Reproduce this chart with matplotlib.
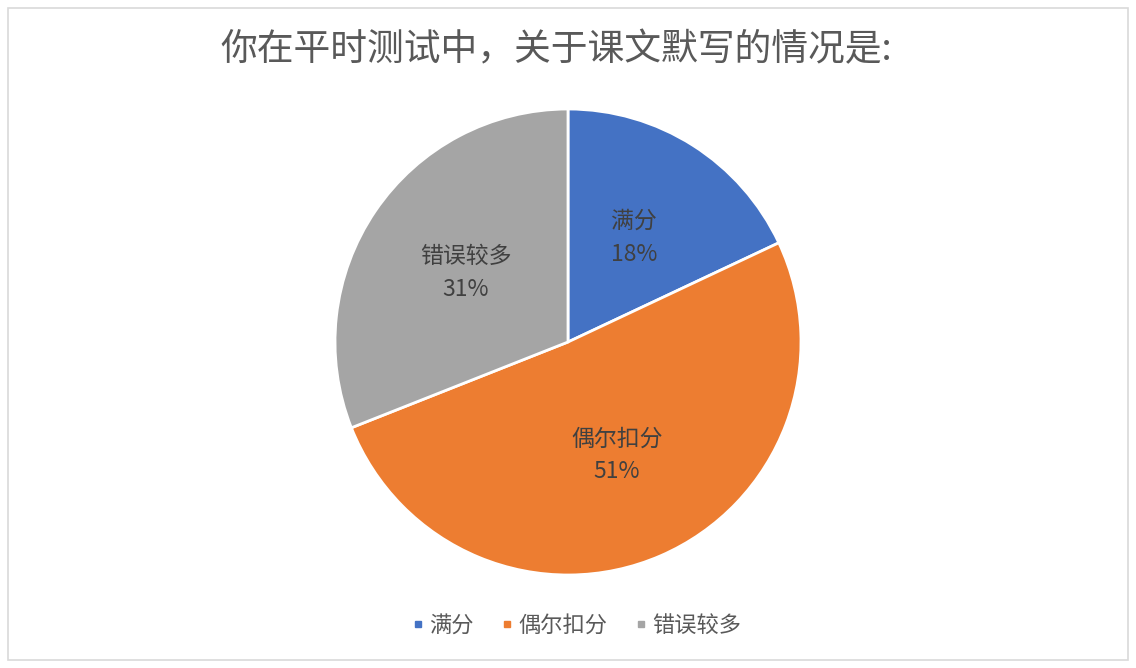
import matplotlib
matplotlib.use("Agg")
import matplotlib.pyplot as plt
from matplotlib.patches import Rectangle
from matplotlib.lines import Line2D
import numpy as np

plt.rcParams['font.family'] = ['Noto Sans CJK SC', 'DejaVu Sans']

title = "你在平时测试中，关于课文默写的情况是:"
categories = ["满分", "偶尔扣分", "错误较多"]
values = [18, 51, 31]
colors = ["#4472C4", "#ED7D31", "#A5A5A5"]

W, H = 1136, 668
fig = plt.figure(figsize=(W / 100, H / 100), dpi=100)

# frame
fig.patches.append(Rectangle((8 / W, 8 / H), 1120 / W, 652 / H, transform=fig.transFigure,
                             fill=False, edgecolor="#D9D9D9", linewidth=1.2))

cx, cy, r = 568, H - 342, 233
ax = fig.add_axes([(cx - r) / W, (cy - r) / H, 2 * r / W, 2 * r / H])
wedges, _ = ax.pie(values, colors=colors, startangle=90, counterclock=False,
                   wedgeprops=dict(edgecolor="white", linewidth=2), radius=1)
ax.set_xlim(-1, 1)
ax.set_ylim(-1, 1)
ax.set_aspect("equal")
ax.axis("off")

total = sum(values)
for w, cat, v in zip(wedges, categories, values):
    ang = np.deg2rad((w.theta1 + w.theta2) / 2)
    d = 0.53
    ax.text(d * np.cos(ang), d * np.sin(ang), f"{cat}\n{round(100 * v / total)}%",
            ha="center", va="center", fontsize=16.5, color="#404040", linespacing=1.55)

fig.text(556 / W, 1 - 50 / H, title, ha="center", va="center", fontsize=26.5, color="#595959")

handles = [Line2D([0], [0], marker="s", linestyle="none", markersize=5,
                  markerfacecolor=c, markeredgecolor=c) for c in colors]
fig.legend(handles, categories, loc="center", bbox_to_anchor=(574 / W, 1 - 625 / H),
           ncol=3, frameon=False, fontsize=16, labelcolor="#595959",
           handletextpad=0.0, columnspacing=1.0, handlelength=1.0)

fig.savefig("out.png", dpi=100, facecolor="white")
